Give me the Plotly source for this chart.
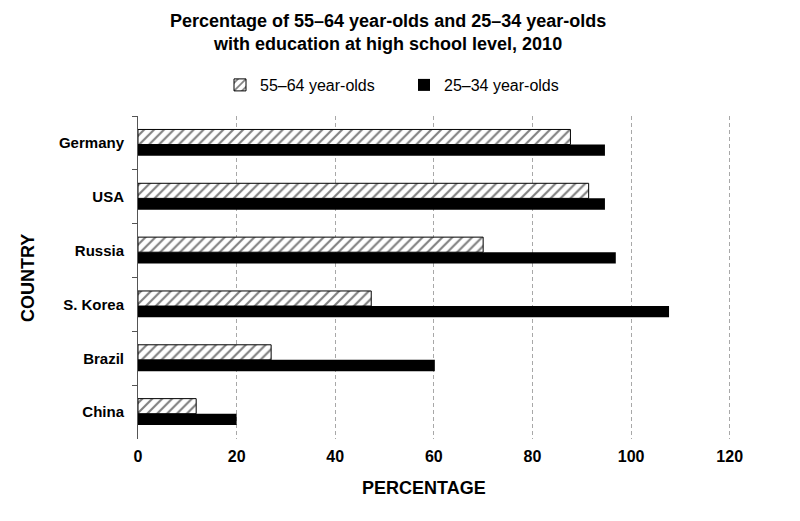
import plotly.graph_objects as go

countries = ["Germany", "USA", "Russia", "S. Korea", "Brazil", "China"]
older = [87.7, 91.4, 70.0, 47.3, 27.0, 11.8]     # 55–64 year-olds
younger = [94.7, 94.7, 96.9, 107.7, 60.2, 20.0]  # 25–34 year-olds
x_ticks = [0, 20, 40, 60, 80, 100, 120]

FONT = "Liberation Sans Narrow, Arial Narrow, Liberation Sans, Arial, sans-serif"

L, R, T, B = 138, 21, 116, 82
W, H = 800, 521


def px_x(px):
    return (px - L) / (W - L - R)


def px_y(py):
    return (H - B - py) / (H - T - B)


fig = go.Figure()
fig.add_trace(go.Bar(
    y=countries, x=older, orientation="h", name="55–64 year-olds",
    offset=-0.25, width=0.28,
    marker=dict(color="white", line=dict(color="black", width=1),
                pattern=dict(shape="/", fgcolor="black", bgcolor="white",
                             size=7, solidity=0.3)),
))
fig.add_trace(go.Bar(
    y=countries, x=younger, orientation="h", name="25–34 year-olds",
    offset=0.03, width=0.21,
    marker=dict(color="black", line=dict(color="black", width=0)),
))

fig.update_layout(
    width=W, height=H,
    paper_bgcolor="white", plot_bgcolor="white",
    margin=dict(l=L, r=R, t=T, b=B),
    font=dict(family=FONT, color="black"),
    showlegend=True,
    legend=dict(orientation="h", x=px_x(220), y=px_y(85), yanchor="middle",
                xanchor="left",
                font=dict(size=16, family=FONT),
                entrywidth=139, traceorder="normal"),
)

fig.update_xaxes(
    range=[0, 130], tickvals=x_ticks,
    showgrid=True, gridcolor="#a8a8a8", griddash="4px,3px", gridwidth=1,
    zeroline=False, showline=False, ticks="", ticklabelstandoff=6,
    tickfont=dict(size=16, family=FONT, color="black", weight="bold"),
)
fig.update_yaxes(
    autorange="reversed", categoryorder="array", categoryarray=countries,
    showline=True, linecolor="#555", linewidth=1,
    ticks="outside", tickson="boundaries", ticklen=5, tickcolor="#555",
    tickfont=dict(size=15, family=FONT, color="black", weight="bold"),
    ticklabelstandoff=10, showgrid=False,
)

fig.add_annotation(
    text="<b>Percentage of 55–64 year-olds and 25–34 year-olds</b><br><b>with education at high school level, 2010</b>",
    x=px_x(388), y=px_y(33), xref="paper", yref="paper", showarrow=False,
    xanchor="center", yanchor="middle",
    font=dict(size=18, family=FONT), align="center",
)
fig.add_annotation(text="<b>PERCENTAGE</b>", x=px_x(424), y=px_y(488),
                   xref="paper", yref="paper", showarrow=False,
                   xanchor="center", yanchor="middle", font=dict(size=18, family=FONT))
fig.add_annotation(text="<b>COUNTRY</b>", x=px_x(28), y=px_y(278),
                   xref="paper", yref="paper", showarrow=False, textangle=-90,
                   xanchor="center", yanchor="middle", font=dict(size=18, family=FONT))

fig.write_html("out.html")
